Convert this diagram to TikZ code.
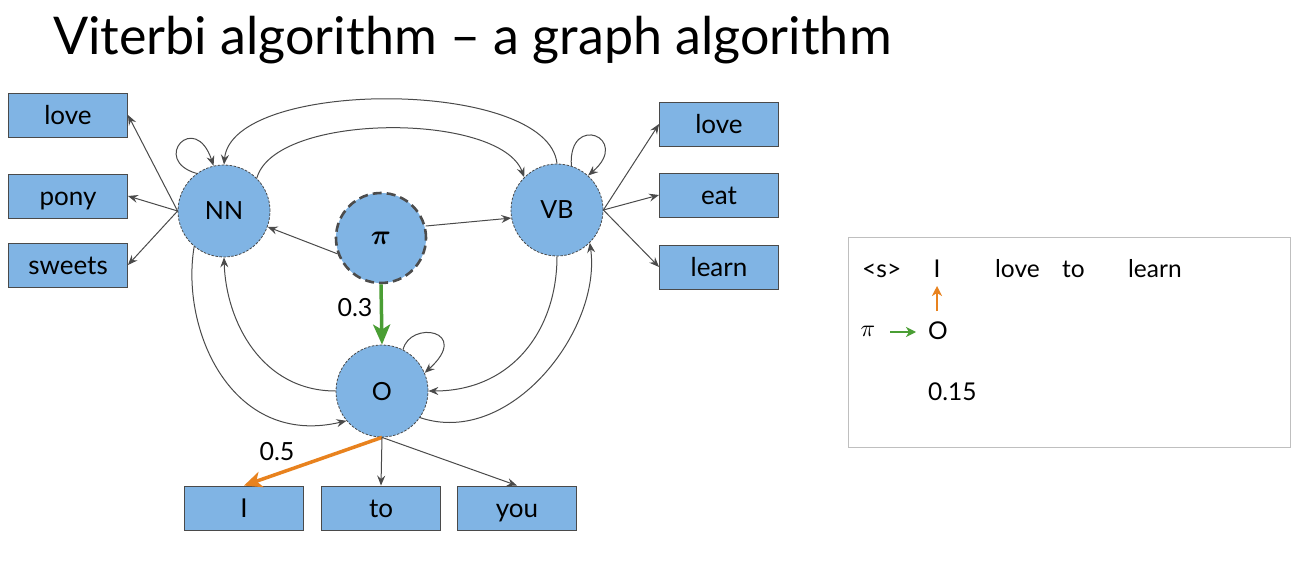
\documentclass[tikz,border=0pt]{standalone}
\usepackage{amsmath}
\usepackage{graphicx}
\usepackage{fontspec}
\setmainfont{Lato}
\usetikzlibrary{arrows.meta}
\definecolor{boxblue}{HTML}{80B4E4}
\definecolor{edgegray}{HTML}{4A4A4A}
\definecolor{pigreen}{HTML}{4A9E34}
\definecolor{emorange}{HTML}{E8821E}
\newcommand{\bigpi}{\scalebox{2.8}{$\boldsymbol{\pi}$}}
\newcommand{\plainpi}{\scalebox{2.4}{$\pi$}}
\tikzset{
  wbox/.style={draw=edgegray, line width=0.9pt, fill=boxblue, minimum width=119pt, minimum height=44pt, inner sep=0pt, text height=18.5pt, text depth=0pt, font=\fontsize{26}{30}\selectfont},
  state/.style={circle, draw=edgegray, dash pattern=on 2.5pt off 1.5pt, line width=0.8pt, fill=boxblue, minimum size=92pt, inner sep=0pt, text height=18pt, text depth=0pt, font=\fontsize{25}{30}\selectfont},
  pistate/.style={circle, draw=black!70, dash pattern=on 9pt off 5pt, line width=2.6pt, fill=boxblue, minimum size=90pt, inner sep=0pt},
  edge/.style={draw=edgegray, line width=1pt, -{Stealth[length=10pt,width=8pt,inset=3.5pt]}},
  greenedge/.style={draw=pigreen, line width=3.5pt, -{Stealth[length=20pt,width=17pt,inset=5pt]}},
  orangeedge/.style={draw=emorange, line width=3.5pt, -{Stealth[length=18pt,width=16pt,inset=5pt]}},
  lbl/.style={font=\fontsize{25}{30}\selectfont, inner sep=0pt},
  plbl/.style={font=\fontsize{24.5}{30}\selectfont, inner sep=0pt},
}
\begin{document}
\begin{tikzpicture}[x=1pt,y=-1pt]
\useasboundingbox (0,0) rectangle (1312,564);
\fill[white] (0,0) rectangle (1312,564);

\node[anchor=base west, inner sep=0pt, font=\fontsize{52}{60}\selectfont] (title) at (53,55) {Viterbi algorithm – a graph algorithm};

% states
\node[state] (NN) at (224,211) {NN};
\node[state] (VB) at (557,210) {VB};
\node[state] (O) at (382,391) {O};
\node[pistate] (pi) at (381,238) {\bigpi};

% word boxes
\node[wbox] (lloveN) at (68,115) {love};
\node[wbox] (pony) at (68,196) {pony};
\node[wbox] (sweets) at (68,265) {sweets};
\node[wbox] (loveV) at (719,124) {love};
\node[wbox] (eat) at (719,195) {eat};
\node[wbox] (learn) at (719,267) {learn};
\node[wbox] (I) at (244,508) {I};
\node[wbox] (to) at (381,508) {to};
\node[wbox] (you) at (517,508) {you};

% pi edges
\draw[edge] (pi.200) -- (NN.-20);
\draw[edge] (pi.15) -- (VB.190);
\draw[greenedge] (pi.south) -- (O.north);
\node[lbl] (l03) at (355,308) {0.3};

% self loops
\draw[edge] (NN.126) .. controls (150,160) and (195,110) .. (NN.103);
\draw[edge] (VB.72) .. controls (568,112) and (632,138) .. (VB.48);
\draw[edge] (O.63) .. controls (410,320) and (472,330) .. (O.23);

% NN <-> VB arcs
\draw[edge] (VB.90) .. controls (548,78) and (232,78) .. (NN.90);
\draw[edge] (NN.45) .. controls (275,112) and (500,112) .. (VB.135);

% NN <-> O
\draw[edge] (O.180) .. controls (262,391) and (226,322) .. (NN.270);
\draw[edge] (NN.230) .. controls (180,330) and (232,448) .. (O.220);

% VB <-> O
\draw[edge] (VB.270) .. controls (557,330) and (512,391) .. (O.0);
\draw[edge] (O.-35) .. controls (510,448) and (602,330) .. (VB.-45);

% emissions
\draw[edge] (NN.180) -- (lloveN.east);
\draw[edge] (NN.180) -- (pony.east);
\draw[edge] (NN.180) -- (sweets.east);
\draw[edge] (VB.0) -- (loveV.west);
\draw[edge] (VB.0) -- (eat.west);
\draw[edge] (VB.0) -- (learn.west);
\draw[orangeedge] (O.south) -- (I.north);
\draw[edge] (O.south) -- (to.north);
\draw[edge] (O.south) -- (you.north);
\node[lbl] (l05) at (277,452) {0.5};

% right panel
\node[draw=black!25, line width=1pt, minimum width=442pt, minimum height=209pt, inner sep=0pt] (panel) at (1069,342.5) {};
\node[plbl, anchor=base west] (s) at (862,277) {<s>};
\node[plbl, anchor=base] (wI) at (937,277) {I};
\node[plbl, anchor=base west] (wlove) at (995,277) {love};
\node[plbl, anchor=base west] (wto) at (1062,277) {to};
\node[plbl, anchor=base west] (wlearn) at (1128,277) {learn};
\node[plbl, anchor=base] (pO) at (938,339) {O};
\node[inner sep=0pt] (ppi) at (868,331) {\plainpi};
\node[plbl, anchor=base west] (p015) at (928,400) {0.15};
\coordinate (ga) at (890,332);
\coordinate (gb) at (916,332);
\draw[draw=pigreen, line width=2.4pt, -{Stealth[length=10pt,width=10pt,inset=3pt]}] (ga) -- (gb);
\coordinate (oa) at (937,311);
\coordinate (ob) at (937,286);
\draw[draw=emorange, line width=2.4pt, -{Stealth[length=10pt,width=10pt,inset=3pt]}] (oa) -- (ob);
\end{tikzpicture}
\end{document}
